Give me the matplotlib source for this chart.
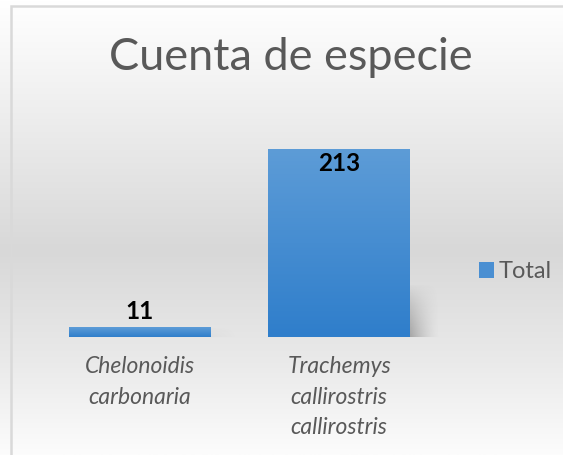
import numpy as np
import matplotlib
matplotlib.use("Agg")
import matplotlib.pyplot as plt
from matplotlib.colors import LinearSegmentedColormap

# datos
especies = ["Chelonoidis\ncarbonaria", "Trachemys\ncallirostris\ncallirostris"]
cuenta = [11, 213]
serie = "Total"
titulo = "Cuenta de especie"

plt.rcParams['font.family'] = ['Lato', 'DejaVu Sans']

W, H = 563, 455
fig = plt.figure(figsize=(W / 100, H / 100), dpi=100)

# fondo con degradado (blanco -> gris -> blanco)
bg = fig.add_axes([0, 0, 1, 1], zorder=0)
t = np.linspace(0, 1, 200)
g = np.interp(t, [0, 0.15, 0.55, 0.8, 1.0], [255, 245, 216, 234, 252]) / 255
bg.imshow(np.dstack([g, g, g]).reshape(200, 1, 3), aspect='auto',
          extent=[0, 1, 0, 1], origin='upper')
bg.set_xlim(0, 1)
bg.set_ylim(0, 1)
bg.axis('off')
# borde del gráfico
bx, by = 10.5 / W, 1 - 5.5 / H
bg.plot([bx, bx, 1.01], [-0.01, by, by], color='#d9d9d9', lw=1.8,
        solid_joinstyle='miter')

# área de trazado
left, right = 40 / W, 439 / W
bottom = 1 - 337 / H
top = 1 - 116.3 / H
ax = fig.add_axes([left, bottom, right - left, top - bottom], zorder=1)
ax.patch.set_alpha(0)
for s in ax.spines.values():
    s.set_visible(False)
ax.set_yticks([])
ax.tick_params(axis='x', length=0, pad=14)

x = np.arange(len(especies))
bars = ax.bar(x, cuenta, width=0.71, color='#4a8fd2', zorder=3)

azul = LinearSegmentedColormap.from_list('azul', ['#2f7ecb', '#5d9cd7'])
grad = np.linspace(0, 1, 100).reshape(-1, 1)
for b in bars:
    bx0, by0 = b.get_x(), b.get_y()
    bw, bh = b.get_width(), b.get_height()
    im = ax.imshow(grad, cmap=azul, aspect='auto', origin='lower',
                   extent=[bx0, bx0 + bw, by0, by0 + bh], zorder=4)
    im.set_clip_path(b)
    # sombra suave a la derecha
    sw = 0.15
    sh = min(bh, 60)
    xs = np.linspace(0, 1, 60)
    ys = np.linspace(0, 1, 60)
    X, Y = np.meshgrid(xs, ys)
    a = (1 - X) ** 1.5 * np.clip(1 - Y, 0, 1) ** 0.8 * 0.45 * min(1, bh / 100)
    sh_img = np.zeros((60, 60, 4))
    sh_img[..., :3] = 0.35
    sh_img[..., 3] = a
    ax.imshow(sh_img, aspect='auto', origin='lower',
              extent=[bx0 + bw, bx0 + bw + sw, by0, by0 + sh], zorder=2)

ax.set_xlim(-0.5, 1.5)
ax.set_ylim(0, 250)

for b, v in zip(bars, cuenta):
    cx = b.get_x() + b.get_width() / 2
    if v > 100:
        ax.text(cx, v - 3, str(v), ha='center', va='top', fontsize=17.5,
                fontweight='bold', color='black', zorder=5)
    else:
        ax.text(cx, v + 5, str(v), ha='center', va='bottom', fontsize=17.5,
                fontweight='bold', color='black', zorder=5)

ax.set_xticks(x)
ax.set_xticklabels(especies, fontsize=16.5, style='italic', color='#595959',
                   linespacing=1.55)

fig.text(291 / W, 1 - 57 / H, titulo, ha='center', va='center', fontsize=32.5,
         color='#595959')

# leyenda
leg = ax.legend([bars[0]], [serie], loc='center left',
                bbox_to_anchor=(479 / W, 1 - 272 / H),
                bbox_transform=fig.transFigure, frameon=False, fontsize=17,
                handlelength=0.65, handleheight=0.65, handletextpad=0.2,
                borderpad=0, borderaxespad=0)
for txt in leg.get_texts():
    txt.set_color('#595959')

fig.savefig("out.png", dpi=100)
